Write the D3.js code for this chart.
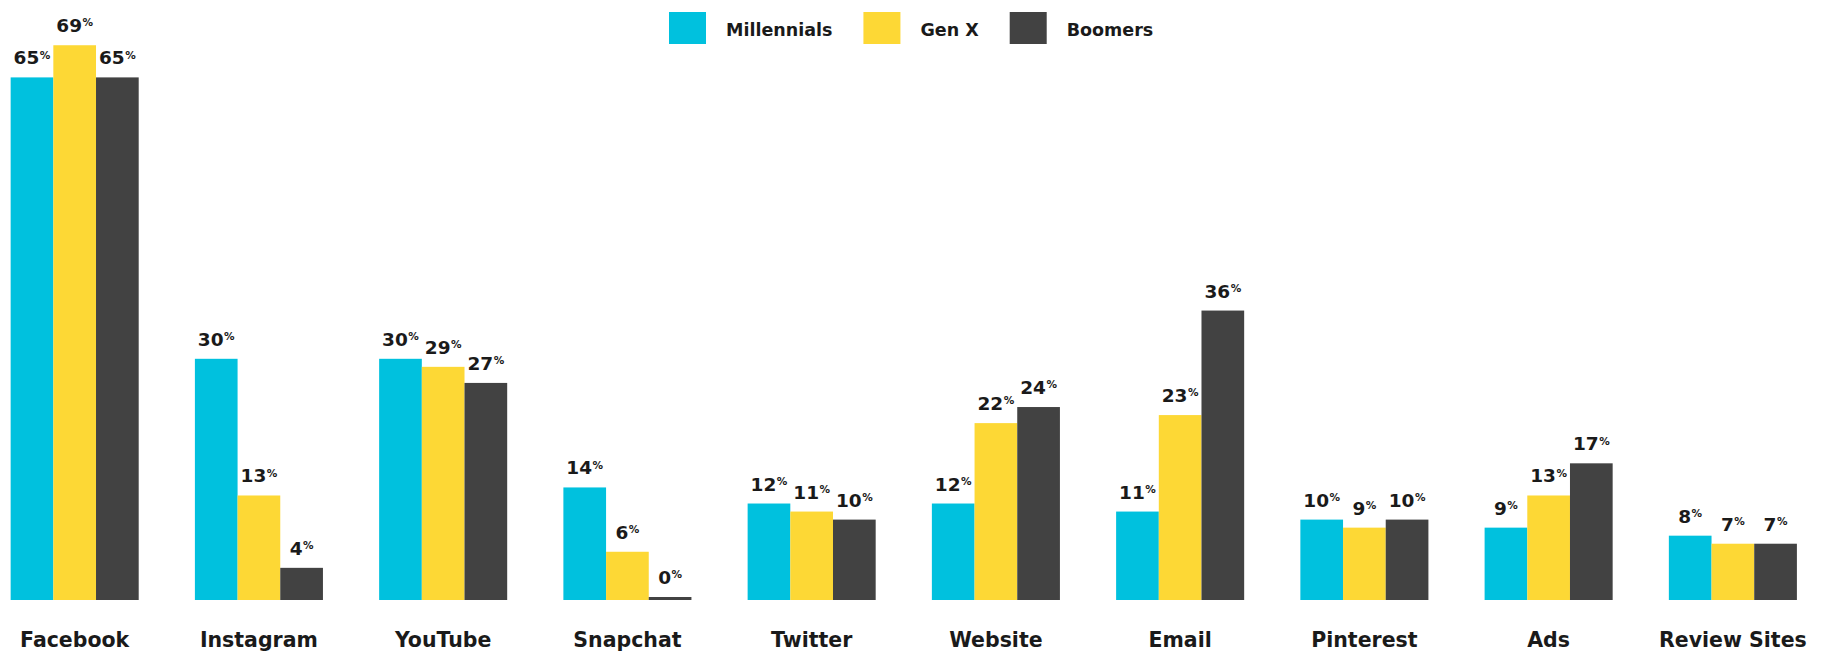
<!DOCTYPE html>
<html>
<head>
<meta charset="utf-8">
<script src="https://cdn.jsdelivr.net/npm/d3@7"></script>
<style>
  html, body { margin: 0; padding: 0; background: #ffffff; }
  svg { display: block; }
  text { font-family: "DejaVu Sans", sans-serif; font-weight: bold; fill: #1a1a1a; }
</style>
</head>
<body>
<svg id="chart" width="1829" height="651"></svg>
<script>
// ---- data ----
const categories = ["Facebook", "Instagram", "YouTube", "Snapchat", "Twitter", "Website", "Email", "Pinterest", "Ads", "Review Sites"];
const seriesNames = ["Millennials", "Gen X", "Boomers"];
const millennials = [65, 30, 30, 14, 12, 12, 11, 10, 9, 8];
const genX        = [69, 13, 29, 6, 11, 22, 23, 9, 13, 7];
const boomers     = [65, 4, 27, 0, 10, 24, 36, 10, 17, 7];

const seriesValues = [millennials, genX, boomers];
const colors = ["#00c1de", "#fdd835", "#424242"];

const svg = d3.select("#chart");
const baseY = 600;

const x0 = d3.scaleBand()
  .domain(categories)
  .range([10.65, 1796.9])
  .paddingInner(0.305)
  .paddingOuter(0);

const x1 = d3.scaleBand()
  .domain(seriesNames)
  .range([0, x0.bandwidth()])
  .padding(0);

const y = d3.scaleLinear()
  .domain([0, 70])
  .range([baseY, baseY - 70 * 8.04]);

const color = d3.scaleOrdinal().domain(seriesNames).range(colors);

const rows = categories.map((c, i) => ({
  cat: c,
  vals: seriesNames.map((s, j) => ({ s, v: seriesValues[j][i] }))
}));

const groups = svg.append("g").selectAll("g")
  .data(rows).join("g")
  .attr("transform", d => `translate(${x0(d.cat)},0)`);

groups.selectAll("rect")
  .data(d => d.vals).join("rect")
  .attr("x", d => x1(d.s))
  .attr("width", x1.bandwidth())
  .attr("y", d => Math.min(y(d.v), baseY - 3))
  .attr("height", d => Math.max(baseY - y(d.v), 3))
  .attr("fill", d => color(d.s));

const lbl = groups.selectAll("text.val")
  .data(d => d.vals).join("text")
  .attr("class", "val")
  .attr("text-anchor", "middle")
  .attr("x", d => x1(d.s) + x1.bandwidth() / 2)
  .attr("y", d => Math.min(y(d.v), baseY - 3) - 13);
lbl.append("tspan").attr("font-size", 18.5).text(d => d.v);
lbl.append("tspan").attr("font-size", 10.5).attr("dx", 0.5).attr("dy", -5.8).text("%");

// category labels
svg.append("g").selectAll("text")
  .data(categories).join("text")
  .attr("text-anchor", "middle")
  .attr("font-size", 20.5)
  .attr("x", d => x0(d) + x0.bandwidth() / 2)
  .attr("y", 647)
  .text(d => d);

// legend
const legend = svg.append("g");
let lx = 669;
seriesNames.forEach(s => {
  legend.append("rect").attr("x", lx).attr("y", 12).attr("width", 37).attr("height", 32).attr("fill", color(s));
  const t = legend.append("text").attr("x", lx + 57).attr("y", 36).attr("font-size", 17.5).text(s);
  const w = t.node().getComputedTextLength();
  lx = lx + 57 + w + 31;
});
</script>
</body>
</html>
